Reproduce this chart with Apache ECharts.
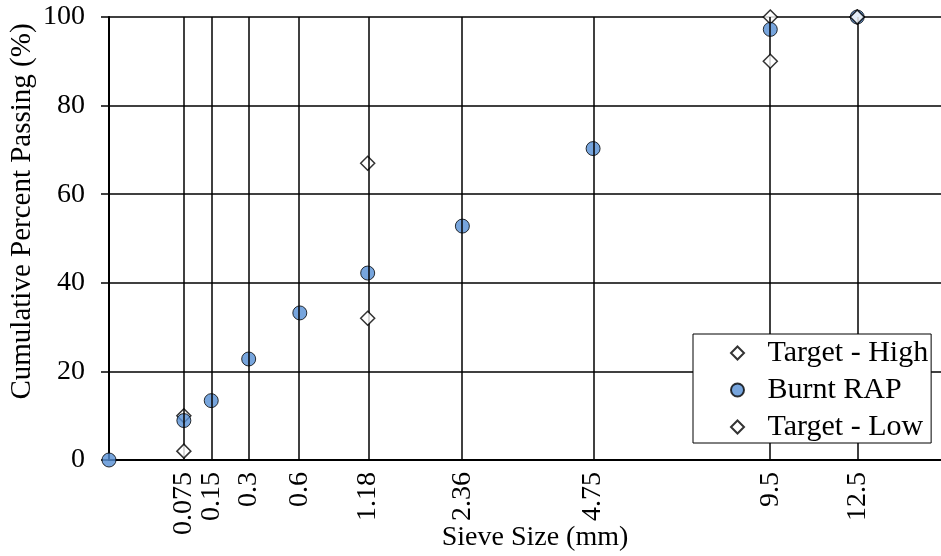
<!DOCTYPE html>
<html>
<head>
<meta charset="utf-8">
<script src="https://cdn.jsdelivr.net/npm/echarts@6/dist/echarts.min.js"></script>
<style>html,body{margin:0;padding:0;background:#fff}#chart{width:941px;height:556px}</style>
</head>
<body>
<div id="chart"></div>
<script>
// Sieve sizes (mm) and their tick labels
const sieveSizes = [0.075, 0.15, 0.3, 0.6, 1.18, 2.36, 4.75, 9.5, 12.5];
const sieveLabels = ['0.075', '0.15', '0.3', '0.6', '1.18', '2.36', '4.75', '9.5', '12.5'];

// Burnt RAP gradation
const rapSizes = [0, 0.075, 0.15, 0.3, 0.6, 1.18, 2.36, 4.75, 9.5, 12.5];
const rapPassing = [0, 8.9, 13.4, 22.8, 33.2, 42.2, 52.8, 70.3, 97.2, 100];

// Target band
const targetSizes = [0.075, 1.18, 9.5, 12.5];
const targetHigh = [10, 67, 100, 100];
const targetLow = [2, 32, 90, 100];

const yTicks = [0, 20, 40, 60, 80, 100];

const P = 0.45; // 0.45 power gradation scale
const tx = s => Math.pow(s, P);
const FONT = 'Liberation Serif';
const X_MAX = 3.465;
const DIAMOND = 'path://M5,0L10,5L5,10L0,5Z';

const chart = echarts.init(document.getElementById('chart'), null, {renderer: 'canvas'});

const labelFmt = v => {
  const i = sieveSizes.findIndex(s => Math.abs(tx(s) - v) < 1e-6);
  return i >= 0 ? sieveLabels[i] : '';
};
const evenVals = sieveSizes.filter((s, i) => i % 2 === 0).map(tx);
const oddVals = sieveSizes.filter((s, i) => i % 2 === 1).map(tx);

function labelAxis(vals, withLine, withName) {
  return {
    type: 'value',
    position: 'bottom',
    offset: 0,
    min: 0,
    max: X_MAX,
    name: withName ? 'Sieve Size (mm)' : '',
    nameLocation: 'middle',
    nameGap: 64,
    nameMoveOverlap: false,
    nameTextStyle: {fontFamily: FONT, fontSize: 28, color: '#000', padding: [0, 0, 0, 20]},
    axisLine: {show: withLine, onZero: false, lineStyle: {color: '#000', width: 2}},
    axisTick: {show: false, customValues: vals},
    splitLine: {show: false},
    axisLabel: {
      customValues: vals,
      rotate: 90,
      margin: 12,
      fontFamily: FONT,
      fontSize: 28,
      color: '#000',
      formatter: labelFmt
    }
  };
}

const option = {
  animation: false,
  backgroundColor: '#fff',
  grid: {left: 109, right: 0, top: 17, bottom: 96, containLabel: false, outerBoundsMode: 'none'},
  xAxis: [labelAxis(evenVals, true, true), labelAxis(oddVals, false, false)],
  yAxis: {
    type: 'value',
    min: 0,
    max: 100,
    interval: 20,
    name: 'Cumulative Percent Passing (%)',
    nameLocation: 'middle',
    nameGap: 72,
    nameMoveOverlap: false,
    nameTextStyle: {fontFamily: FONT, fontSize: 29, color: '#000', padding: [0, 0, 0, 54]},
    axisLine: {show: true, onZero: false, lineStyle: {color: '#000', width: 2}},
    axisTick: {show: true, inside: false, length: 8, lineStyle: {color: '#000', width: 1.5}},
    splitLine: {show: true, lineStyle: {color: '#000', width: 1.5}},
    axisLabel: {
      margin: 24,
      fontFamily: FONT,
      fontSize: 28,
      color: '#000',
      formatter: v => (yTicks.indexOf(v) >= 0 ? String(v) : '')
    }
  },
  legend: {
    show: true,
    z: 20,
    orient: 'vertical',
    left: 693,
    top: 334,
    padding: [4, 3, 1, 37],
    itemWidth: 50,
    itemHeight: 13,
    itemGap: 7,
    symbolKeepAspect: true,
    backgroundColor: '#fff',
    borderColor: '#000',
    borderWidth: 1,
    borderRadius: 0,
    textStyle: {fontFamily: FONT, fontSize: 30, color: '#000', lineHeight: 30, width: 150, overflow: 'none'},
    data: [
      {name: 'Target - High', icon: DIAMOND},
      {name: 'Burnt RAP', icon: 'circle'},
      {name: 'Target - Low', icon: DIAMOND}
    ]
  },
  series: [
    {
      name: 'sieve-lines',
      type: 'scatter',
      data: [],
      z: 1,
      silent: true,
      markLine: {
        silent: true,
        symbol: ['none', 'none'],
        label: {show: false},
        lineStyle: {color: '#000', width: 1.5, type: 'solid'},
        data: sieveSizes.map(s => ({xAxis: tx(s)}))
      }
    },
    {
      name: 'Target - High',
      type: 'scatter',
      z: 3,
      symbol: 'diamond',
      symbolSize: 14,
      itemStyle: {color: '#fff', borderColor: '#000', borderWidth: 1.5},
      data: targetSizes.map((s, i) => [tx(s), targetHigh[i]])
    },
    {
      name: 'Burnt RAP',
      type: 'scatter',
      z: 4,
      symbol: 'circle',
      symbolSize: 14,
      itemStyle: {color: '#558ED5', borderColor: '#000', borderWidth: 1},
      data: rapSizes.map((s, i) => [tx(s), rapPassing[i]])
    },
    {
      name: 'Target - Low',
      type: 'scatter',
      z: 5,
      symbol: 'diamond',
      symbolSize: 14,
      itemStyle: {color: '#fff', borderColor: '#000', borderWidth: 1.5},
      data: targetSizes.map((s, i) => [tx(s), targetLow[i]])
    }
  ]
};

chart.setOption(option);
</script>
</body>
</html>
